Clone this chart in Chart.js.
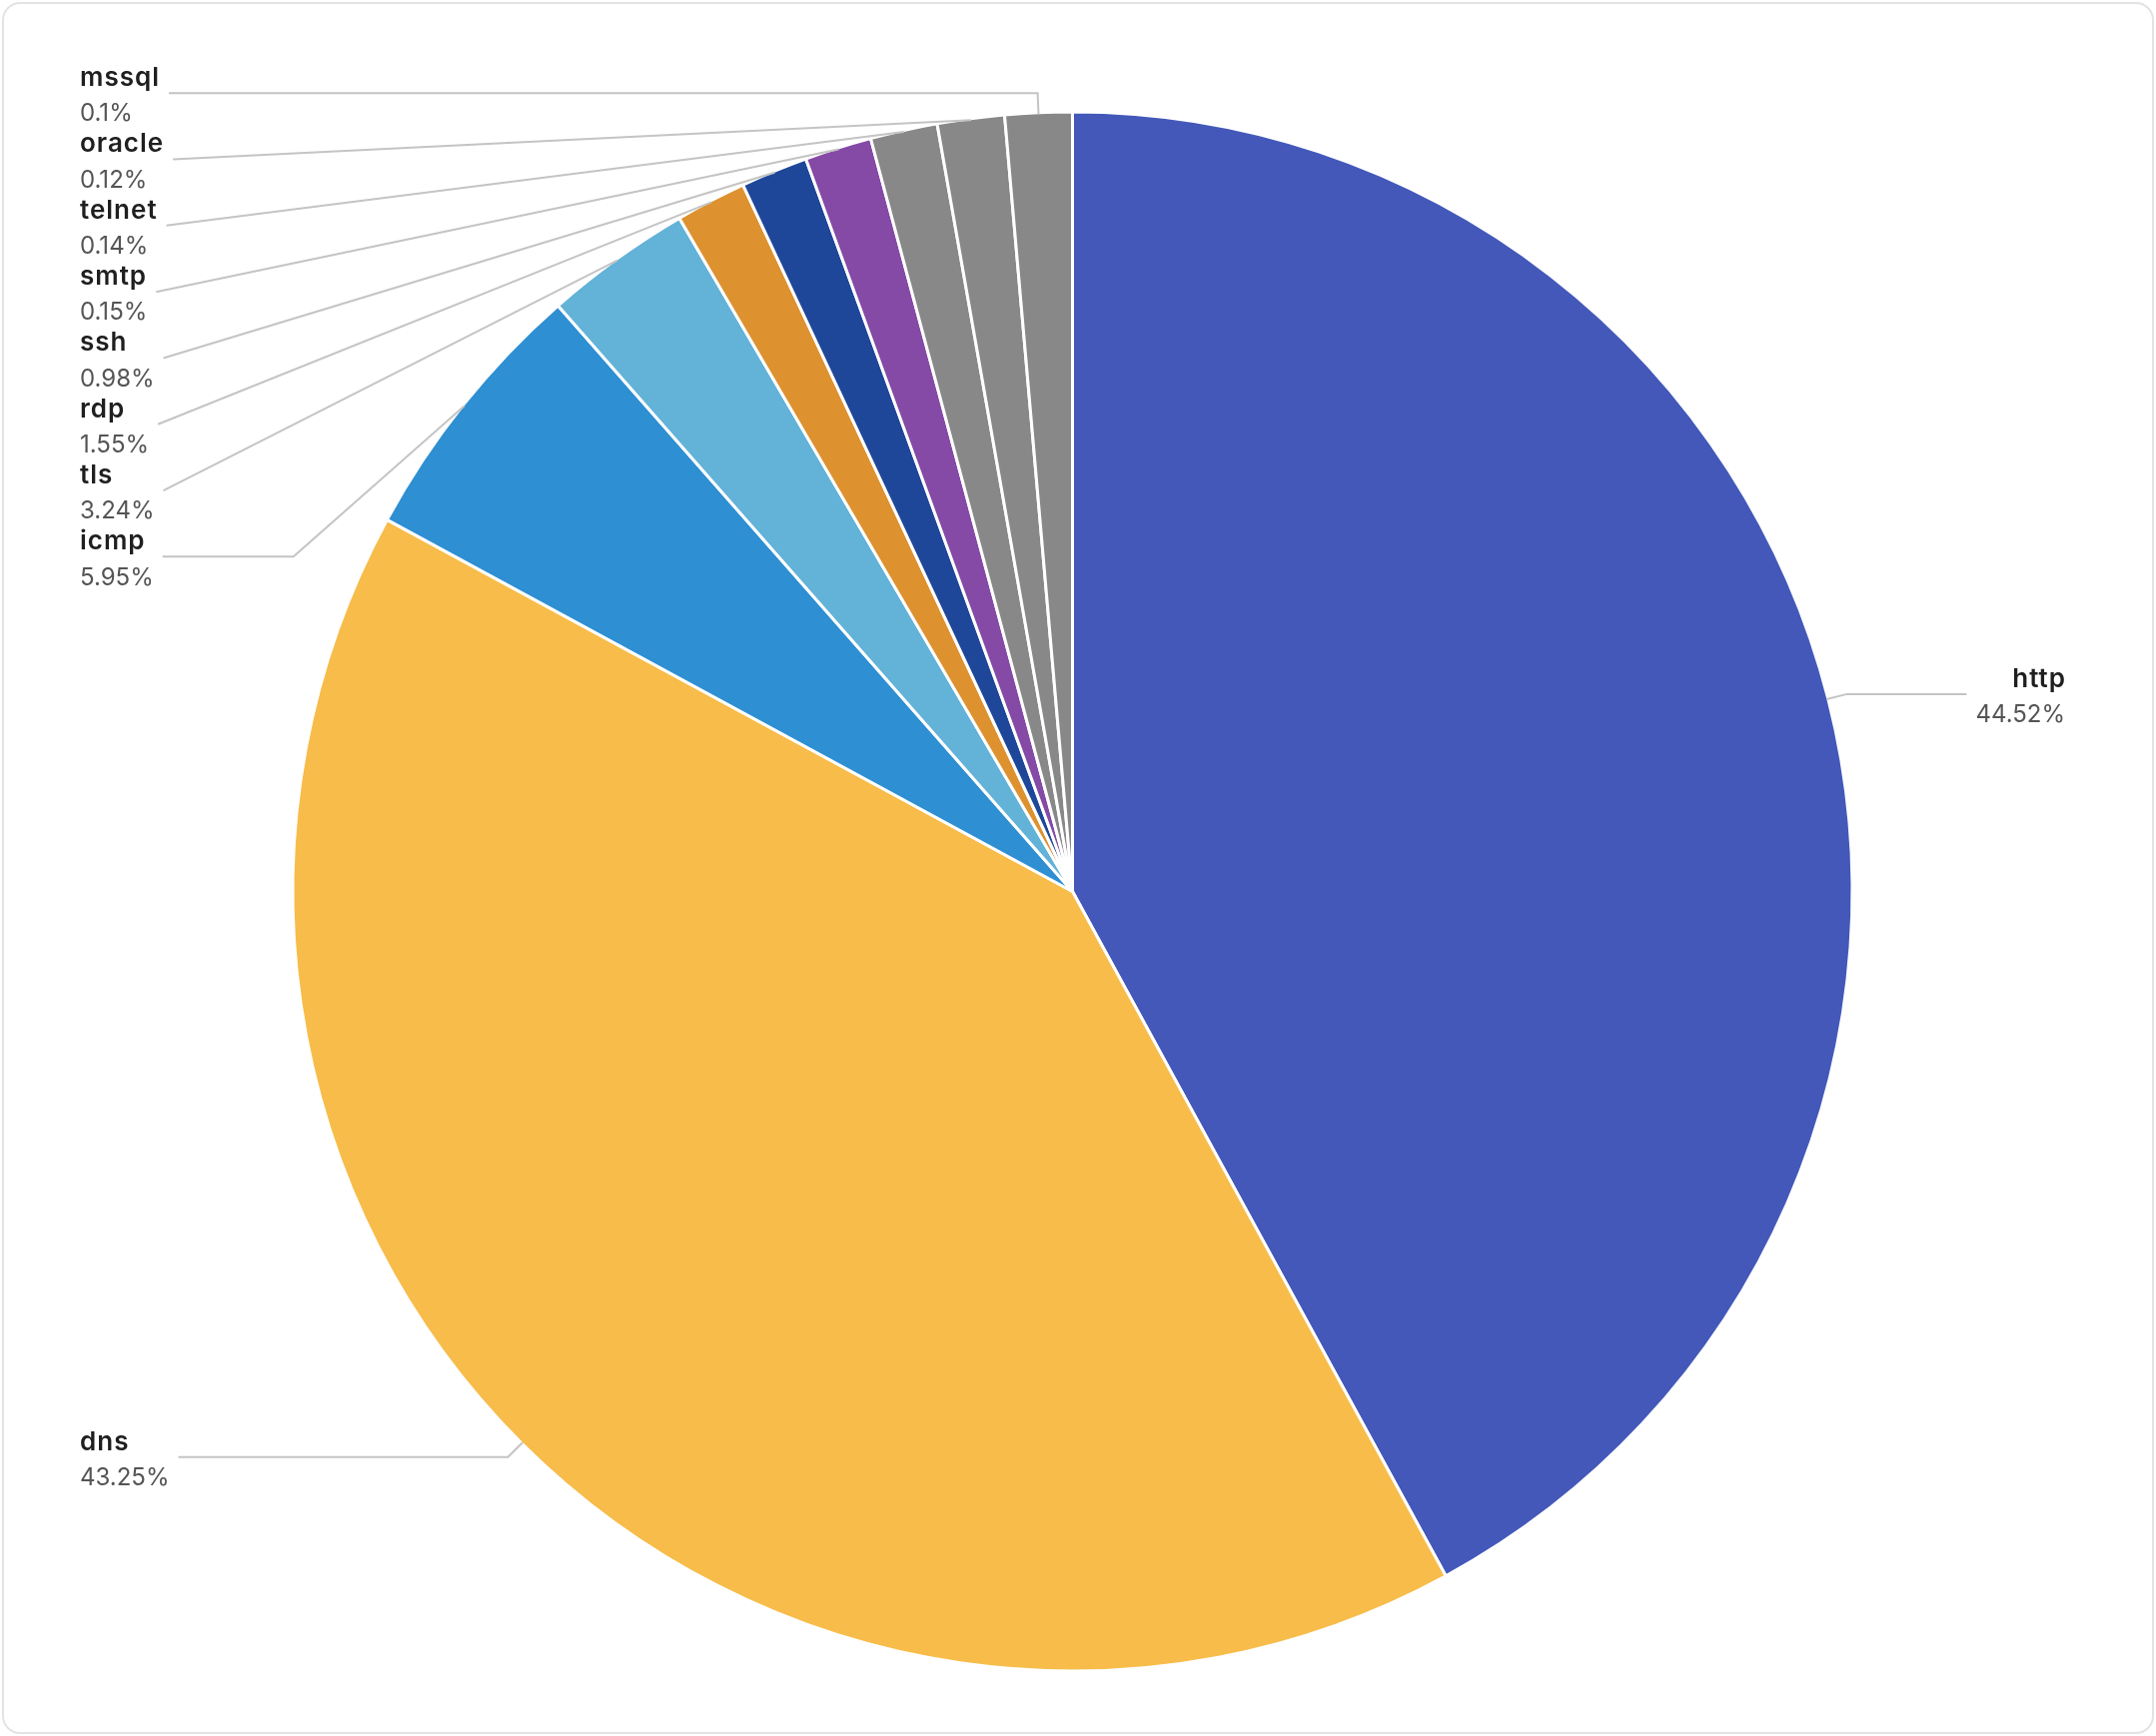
<!DOCTYPE html>
<html><head><meta charset="utf-8">
<script src="https://cdn.jsdelivr.net/npm/chart.js@4.4.1/dist/chart.umd.min.js"></script>
<style>
html,body{margin:0;padding:0;background:#fff;width:2158px;height:1738px;overflow:hidden;}
#card{position:absolute;left:2px;top:2px;width:2154px;height:1734px;box-sizing:border-box;border:2px solid #e3e3e3;border-radius:18px;}
#c{position:absolute;left:0;top:0;}
</style></head><body>
<div id="card"></div>
<canvas id="c" width="2158" height="1738"></canvas>
<script>
// ---- data ----
const categories = ['http', 'dns', 'icmp', 'tls', 'rdp', 'ssh', 'smtp', 'telnet', 'oracle', 'mssql'];
const percentages = [44.52, 43.25, 5.95, 3.24, 1.55, 0.98, 0.15, 0.14, 0.12, 0.1];
const percentLabels = ['44.52%', '43.25%', '5.95%', '3.24%', '1.55%', '0.98%', '0.15%', '0.14%', '0.12%', '0.1%'];
const sliceColors = ['#4358B9', '#F7BC4A', '#2E8FD3', '#63B2D8', '#DE912F', '#1F4799', '#8549A6', '#888888', '#888888', '#888888'];
const minSliceAngle = 5; // degrees, smallest slices are drawn at least this wide

// minimum-angle rule (like a pie "minAngle" option): returns slice angles in degrees
function sliceAnglesWithMin(vals, minDeg) {
  const sum = vals.reduce((a, b) => a + b, 0);
  let rest = 360, largerSum = 0;
  const ang = vals.map(v => {
    const a = v / sum * 360;
    if (a < minDeg) { rest -= minDeg; return minDeg; }
    largerSum += v; return a;
  });
  if (rest < 360) {
    const unit = rest / largerSum;
    return ang.map((a, i) => a > minDeg ? vals[i] * unit : minDeg);
  }
  return ang;
}
const sliceValues = sliceAnglesWithMin(percentages, minSliceAngle);

// ---- label layout constants ----
const BORDER_W = 3;
const LEN1 = 21, LEN2 = 131, GAP = 9;
const LEFT_X = 80, RIGHT_X = 2067;
const ROW = 66.3;
const NAME_FONT = '600 26px Inter';
const NAME_SPACING = '1px';
const PCT_FONT = '400 24px Inter';
const LINE_COLOR = '#c4c4c4';
const MAX_SURFACE = 83 * Math.PI / 180;

const labelPlugin = {
  id: 'pieLabels',
  afterDraw(chart) {
    const ctx = chart.ctx;
    const meta = chart.getDatasetMeta(0);
    const items = meta.data.map((arc, i) => {
      const p = arc.getProps(['x', 'y', 'startAngle', 'endAngle', 'outerRadius'], true);
      const mid = (p.startAngle + p.endAngle) / 2;
      const R = p.outerRadius - BORDER_W / 2;
      const c = Math.cos(mid), s = Math.sin(mid);
      const p0 = { x: p.x + c * R, y: p.y + s * R };
      const p1 = { x: p.x + c * (R + LEN1), y: p.y + s * (R + LEN1) };
      ctx.font = NAME_FONT; ctx.letterSpacing = NAME_SPACING;
      const wn = ctx.measureText(categories[i]).width;
      ctx.font = PCT_FONT; ctx.letterSpacing = '0px';
      const wp = ctx.measureText(percentLabels[i]).width;
      return { i, c, s, p0, p1, natY: p1.y, y: p1.y, right: c >= 0, w: Math.max(wn, wp) };
    });
    [true, false].forEach(side => {
      const list = items.filter(it => it.right === side).sort((a, b) => a.natY - b.natY);
      let prev = -Infinity;
      list.forEach(it => { it.y = Math.max(it.natY, prev + ROW); prev = it.y; });
    });
    ctx.save();
    ctx.strokeStyle = LINE_COLOR;
    ctx.lineWidth = 2;
    ctx.lineJoin = 'miter';
    items.forEach(it => {
      const p2x = it.right ? RIGHT_X - it.w - GAP : LEFT_X + it.w + GAP;
      const pts = [it.p0];
      if (Math.abs(it.y - it.natY) < 0.5) {
        pts.push(it.p1);
      } else {
        const e = { x: it.right ? p2x - LEN2 : p2x + LEN2, y: it.y };
        const dx = e.x - it.p0.x, dy = e.y - it.p0.y;
        const len = Math.hypot(dx, dy);
        const ang = Math.acos((dx * it.c + dy * it.s) / len);
        if (ang <= MAX_SURFACE) pts.push(e);
      }
      pts.push({ x: p2x, y: it.y });
      ctx.beginPath();
      ctx.moveTo(pts[0].x, pts[0].y);
      for (let k = 1; k < pts.length; k++) ctx.lineTo(pts[k].x, pts[k].y);
      ctx.stroke();
    });
    ctx.textBaseline = 'middle';
    items.forEach(it => {
      const x = it.right ? RIGHT_X : LEFT_X;
      ctx.textAlign = it.right ? 'right' : 'left';
      ctx.font = NAME_FONT; ctx.letterSpacing = NAME_SPACING; ctx.fillStyle = '#1f1f1f';
      ctx.fillText(categories[it.i], it.right ? x + 1 : x, it.y - 15);
      ctx.font = PCT_FONT; ctx.letterSpacing = '0px'; ctx.fillStyle = '#555555';
      ctx.fillText(percentLabels[it.i], x, it.y + 21);
    });
    ctx.restore();
  }
};

new Chart(document.getElementById('c'), {
  type: 'pie',
  data: {
    labels: categories,
    datasets: [{
      data: sliceValues,
      backgroundColor: sliceColors,
      borderColor: '#ffffff',
      borderWidth: BORDER_W,
      radius: 780.5
    }]
  },
  options: {
    responsive: false,
    devicePixelRatio: 1,
    animation: false,
    layout: { padding: { left: 0, right: 11, top: 47, bottom: 0 } },
    plugins: { legend: { display: false }, tooltip: { enabled: false } }
  },
  plugins: [labelPlugin]
});
</script>
</body></html>
